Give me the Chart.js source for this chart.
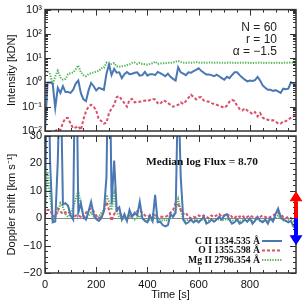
<!DOCTYPE html>
<html>
<head>
<meta charset="utf-8">
<script src="https://cdn.jsdelivr.net/npm/chart.js@4.4.0/dist/chart.umd.min.js"></script>
<style>
  html, body { margin: 0; padding: 0; background: #fff; }
  #wrap { position: relative; width: 305px; height: 305px; }
  #wrap canvas { position: absolute; left: 0; top: 0; }
</style>
</head>
<body>
<div id="wrap">
  <canvas id="intensityChart" width="305" height="305" style="width:305px;height:305px"></canvas>
  <canvas id="dopplerChart" width="305" height="305" style="width:305px;height:305px"></canvas>
</div>
<script>
// ---- data (time in s) ----
const timeSec = [
  0, 10, 20, 30, 40, 50, 60, 70, 80, 90, 100, 110, 120, 130, 140, 150, 160, 170, 180, 190,
  200, 210, 220, 230, 240, 250, 260, 270, 280, 290, 300, 310, 320, 330, 340, 350, 360, 370, 380, 390,
  400, 410, 420, 430, 440, 450, 460, 470, 480, 490, 500, 510, 520, 530, 540, 550, 560, 570, 580, 590,
  600, 610, 620, 630, 640, 650, 660, 670, 680, 690, 700, 710, 720, 730, 740, 750, 760, 770, 780, 790,
  800, 810, 820, 830, 840, 850, 860, 870, 880, 890, 900, 910, 920, 930, 940, 950, 960, 970, 980
];

// intensity [kDN]
const intensityCII = [
  0.01, 1.0, 1.0, 0.9, 0.09, 0.6, 0.37, 0.7, 0.4, 0.4, 0.37, 0.5, 0.9, 1.2, 0.36, 0.2, 0.17, 0.47, 0.95, 0.7,
  0.47, 0.6, 0.55, 0.5, 2.3, 5.5, 2.0, 3.6, 2.5, 2.6, 1.5, 2.2, 2.7, 2.2, 2.3, 2.5, 2.6, 1.9, 2.0, 2.7,
  1.9, 2.2, 2.2, 2.0, 2.7, 2.4, 2.1, 1.8, 2.3, 1.7, 1.4, 1.2, 4.2, 2.6, 2.3, 2.0, 2.6, 2.5, 2.9, 3.3,
  3.8, 3.0, 2.5, 2.1, 2.1, 2.0, 1.8, 2.1, 1.8, 1.5, 1.3, 1.7, 1.5, 2.0, 2.6, 2.6, 2.0, 1.6, 1.3, 1.1,
  1.2, 1.15, 1.25, 1.7, 1.2, 0.75, 0.6, 0.5, 0.5, 0.45, 0.48, 0.43, 0.37, 0.55, 0.52, 0.55, 1.0, 0.9, 0.8
];
const intensityOI = [
  0.008, 0.008, 0.008, 0.009, 0.01, 0.012, 0.011, 0.022, 0.034, 0.034, 0.02, 0.013, 0.014, 0.016, 0.011, 0.03, 0.064, 0.10, 0.12, 0.10,
  0.07, 0.03, 0.026, 0.02, 0.022, 0.055, 0.085, 0.12, 0.25, 0.27, 0.19, 0.14, 0.10, 0.19, 0.21, 0.15, 0.16, 0.16, 0.17, 0.18,
  0.17, 0.19, 0.21, 0.20, 0.14, 0.13, 0.18, 0.17, 0.14, 0.12, 0.10, 0.11, 0.12, 0.15, 0.13, 0.17, 0.23, 0.31, 0.25, 0.20,
  0.24, 0.25, 0.18, 0.17, 0.16, 0.14, 0.13, 0.12, 0.11, 0.10, 0.09, 0.11, 0.16, 0.19, 0.17, 0.11, 0.08, 0.07, 0.085, 0.07,
  0.06, 0.05, 0.06, 0.04, 0.055, 0.036, 0.03, 0.029, 0.027, 0.028, 0.024, 0.021, 0.02, 0.025, 0.025, 0.03, 0.035, 0.04, 0.05
];
const intensityMgII = [
  3.0, 2.8, 2.2, 0.8, 1.8, 3.0, 1.6, 1.3, 1.4, 2.2, 2.4, 2.6, 3.5, 5.0, 2.6, 2.0, 1.8, 2.2, 2.4, 2.6,
  2.8, 3.0, 3.8, 4.0, 6.5, 5.5, 5.8, 6.2, 4.6, 4.4, 4.6, 4.8, 5.2, 5.6, 6.4, 6.6, 5.8, 6.4, 5.8, 5.6,
  5.4, 5.8, 6.2, 7.2, 5.8, 6.0, 6.2, 6.2, 6.4, 6.4, 6.6, 7.2, 7.8, 7.0, 6.6, 6.4, 6.6, 6.4, 6.6, 6.8,
  6.6, 6.4, 6.6, 6.4, 6.6, 6.5, 6.4, 6.6, 6.4, 6.5, 6.3, 6.5, 6.6, 6.4, 6.5, 6.3, 6.5, 6.4, 6.6, 6.4,
  6.5, 6.3, 6.4, 6.6, 6.4, 6.5, 6.3, 6.4, 6.5, 6.3, 6.4, 6.5, 6.3, 6.4, 6.5, 6.4, 6.6, 6.5, 6.4
];

// Doppler shift [km/s]
const dopplerCII = [
  0, 80, 20, -1.5, -1.2, 21, 60, 5, 5.5, 4.5, 1, -0.5, 80, 2, 5.5, 0.5, -0.5, 2.5, 6, 1.5,
  -0.3, -1, 0, 2.5, 15, 80, 5, 21, 3, 4, -0.5, 1.5, -1, 3, 0.5, 2, 1, 6, 0, -1,
  -1.5, 1, -1, 8.5, -1.5, -1.3, -2.5, -3, -2.5, 1.5, 0.5, 2, 50, 15, -0.5, -2, -1.5, -0.5, -1.5, -0.8,
  -1.5, -0.5, 0.5, -2, -1.5, -0.5, -1.3, -0.5, 0.5, -0.5, 1, 1.5, -0.5, -2, -1.5, -0.5, -2, -1.5, -0.5, -1.3,
  0, -2, -1, 0.5, -1, -1.5, -0.5, -2, 0, -1.2, 1.5, 3.5, 0.5, -0.5, -1, -1.5, -1, -3, -2
];
const dopplerOI = [
  1, 3, 3, 1, 0.5, 3.5, 2.5, 1.5, 2, 2.5, 1.5, 0, 1, 1, 0.5, 0, 2, 3, 3.5, 2.5,
  1, 0, 0.5, 2.5, 6, 3, -1, 1.5, 3, 2, 1, 0.5, 0.5, 1, 1, 1.5, 2.5, 3, 2, 1,
  0.5, 1, 1.5, 1, 0, 0.5, 0.5, 0.5, 1, 2, 3, 5.5, 5, 3, 1.5, 2, 0.5, 0, 0.5, 0.3,
  1, 0.5, 1, 0.5, 0, 1, 0.5, 1, 1.5, 0.5, 1, 0.5, 1.5, 0.5, 0, 1, 0.5, 1, 0, 0.5,
  1, 0.5, 0.5, 0, 0.5, 1, 0.5, 0, 0.5, 1, 1.5, 2, 1.5, 0.5, 0, 0.5, 0, -0.5, 0
];
const dopplerMgII = [
  3, 17, 8, -1, 0.5, 2, 5.5, 4, 1.5, 0.5, 1.5, 4, 7, 10, 5, 1, 0, 1, 2, 0.5,
  0, 0.5, 2, 3, 8.5, 6, 3, 9, 2, 0.5, 0, -0.5, 0, 0.5, 0, -0.5, 0, 1, 0, -0.5,
  -1, -0.5, -1, 1.5, -1, -0.5, -1, -0.5, -1, 0, 1, 3, 7, 3, -0.5, -1, -0.5, -1, -0.8, -0.5,
  -1, -0.7, -0.3, -1, -0.8, -0.5, -1, -0.6, -0.3, -0.8, -0.5, -0.3, -0.8, -1, -0.7, -0.5, -1, -0.8, -0.5, -1,
  -0.6, -1, -0.7, -0.4, -0.8, -1, -0.6, -1, -0.5, -0.7, 0, 1, 0, -0.8, -1, -0.7, -1, -1.2, -0.8
];

const seriesLabels = ['C II 1334.535 Å', 'O I 1355.598 Å', 'Mg II 2796.354 Å'];
const intensityTicks = [0.01, 0.1, 1, 10, 100, 1000];
const intensityTickLabels = ['10⁻²', '10⁻¹', '10⁰', '10¹', '10²', '10³'];
const dopplerTicks = [-20, -10, 0, 10, 20, 30];
const timeTicks = [0, 200, 400, 600, 800];
const statsLines = ['N = 60', 'r = 10', 'α = −1.5'];
const fluxNote = 'Median log Flux = 8.70';

// ---- styles ----
const lineStyles = [
  { borderColor: '#4a78b4', borderWidth: 2, borderDash: [] },
  { borderColor: '#d9506a', borderWidth: 2, borderDash: [3, 2] },
  { borderColor: '#55b255', borderWidth: 2, borderDash: [1.3, 1.3] }
];
const SANS = '"Liberation Sans", Arial, sans-serif';
const SERIF = '"Liberation Serif", "Times New Roman", serif';
const frameColor = '#333';

function makeDatasets(seriesList) {
  return seriesList.map((vals, i) => ({
    label: seriesLabels[i],
    data: timeSec.map((t, k) => ({ x: t, y: vals[k] })),
    ...lineStyles[i],
    pointRadius: 0,
    tension: 0,
    fill: false
  }));
}

// text squeezed/stretched horizontally to a given width (the original uses a wide vector font)
function fitText(ctx, text, x, y, scaleX, align) {
  const w = ctx.measureText(text).width * scaleX;
  const left = align === 'right' ? x - w : x;
  ctx.save();
  ctx.translate(left, y);
  ctx.scale(scaleX, 1);
  ctx.textAlign = 'left';
  ctx.fillText(text, 0, 0);
  ctx.restore();
}

// draws the box and inward ticks on all four sides
const frameTicks = {
  id: 'frameTicks',
  afterDraw(chart, args, opts) {
    const { ctx, chartArea: a, scales } = chart;
    ctx.save();
    ctx.strokeStyle = frameColor;
    ctx.lineWidth = 1;
    const tick = (list, len, horizontal) => {
      list.forEach(v => {
        if (horizontal) {
          const x = Math.round(scales.x.getPixelForValue(v)) + 0.5;
          ctx.beginPath();
          ctx.moveTo(x, a.bottom); ctx.lineTo(x, a.bottom - len);
          ctx.moveTo(x, a.top); ctx.lineTo(x, a.top + len);
          ctx.stroke();
        } else {
          const y = Math.round(scales.y.getPixelForValue(v)) + 0.5;
          ctx.beginPath();
          ctx.moveTo(a.left, y); ctx.lineTo(a.left + len, y);
          ctx.moveTo(a.right, y); ctx.lineTo(a.right - len, y);
          ctx.stroke();
        }
      });
    };
    tick(opts.xMajor, 6, true);
    tick(opts.xMinor, 3, true);
    tick(opts.yMajor, 6, false);
    tick(opts.yMinor, 3, false);
    ctx.lineWidth = 1.5;
    ctx.strokeRect(a.left, a.top, a.right - a.left, a.bottom - a.top);
    ctx.restore();
  }
};

const xMinorTicks = [];
for (let t = 50; t < 980; t += 50) if (t % 200) xMinorTicks.push(t);
const logMinorTicks = [];
for (let d = 0.01; d < 1000; d *= 10) for (let m = 2; m <= 9; m++) logMinorTicks.push(d * m);
const dopplerMinorTicks = [];
for (let v = -20; v <= 30; v += 2) if (v % 10) dopplerMinorTicks.push(v);

const tickFont = { family: SANS, size: 11 };
const titleFont = { family: SANS, size: 11 };

// ---- top panel: intensity ----
const intensityNotes = {
  id: 'intensityNotes',
  afterDraw(chart) {
    const { ctx } = chart;
    ctx.save();
    ctx.fillStyle = '#222';
    ctx.font = '12px ' + SANS;
    ctx.textAlign = 'right';
    ctx.textBaseline = 'middle';
    statsLines.forEach((s, i) => ctx.fillText(s, 277, 28 + i * 12));
    ctx.restore();
  }
};

new Chart(document.getElementById('intensityChart'), {
  type: 'line',
  data: { datasets: makeDatasets([intensityCII, intensityOI, intensityMgII]) },
  options: {
    responsive: false,
    animation: false,
    layout: { padding: { top: 9, right: 9, left: 0, bottom: 174 } },
    plugins: {
      legend: { display: false },
      tooltip: { enabled: false },
      frameTicks: { xMajor: timeTicks, xMinor: xMinorTicks, yMajor: intensityTicks, yMinor: logMinorTicks }
    },
    scales: {
      x: { type: 'linear', min: 0, max: 980, display: false },
      y: {
        type: 'logarithmic',
        min: 0.01,
        max: 1000,
        afterFit(s) { s.width = 45; },
        afterBuildTicks(s) { s.ticks = intensityTicks.map(v => ({ value: v })); },
        ticks: {
          autoSkip: false,
          color: '#111',
          font: tickFont,
          padding: 3,
          callback: (v) => intensityTickLabels[intensityTicks.findIndex(t => Math.abs(t - v) / t < 1e-6)]
        },
        grid: { display: false, drawTicks: false },
        border: { display: false },
        title: { display: true, text: 'Intensity [kDN]', color: '#111', font: titleFont, padding: { top: 5, bottom: 2 } }
      }
    }
  },
  plugins: [frameTicks, intensityNotes]
});

// ---- bottom panel: Doppler shift ----
const dopplerNotes = {
  id: 'dopplerNotes',
  beforeDatasetsDraw(chart) {
    const { ctx, chartArea: a, scales } = chart;
    const y0 = Math.round(scales.y.getPixelForValue(0)) + 0.5;
    ctx.save();
    ctx.strokeStyle = '#8a8a8a';
    ctx.lineWidth = 1;
    ctx.beginPath();
    ctx.moveTo(a.left, y0); ctx.lineTo(a.right, y0);
    ctx.stroke();
    ctx.restore();
  },
  afterDraw(chart) {
    const { ctx, chartArea: a, scales } = chart;
    ctx.save();
    ctx.fillStyle = '#111';
    ctx.textBaseline = 'middle';

    ctx.font = 'bold 11px ' + SERIF;
    const fluxScale = 112 / ctx.measureText(fluxNote).width;
    fitText(ctx, fluxNote, 146, 162, fluxScale, 'left');

    // legend
    ctx.font = 'bold 10px ' + SERIF;
    const legScale = 72 / ctx.measureText(seriesLabels[2]).width;
    seriesLabels.forEach((lab, i) => {
      const y = 241 + i * 9.5;
      ctx.fillStyle = '#111';
      fitText(ctx, lab, 260, y, legScale, 'right');
      const st = lineStyles[i];
      ctx.strokeStyle = st.borderColor;
      ctx.lineWidth = st.borderWidth;
      ctx.setLineDash(st.borderDash);
      ctx.beginPath();
      ctx.moveTo(262, y); ctx.lineTo(282, y);
      ctx.stroke();
    });
    ctx.setLineDash([]);

    // red / blue shift arrows on the right axis
    const y0 = scales.y.getPixelForValue(0);
    const xc = a.right;
    const arrow = (color, dir) => {
      ctx.fillStyle = color;
      ctx.fillRect(xc - 2, dir < 0 ? y0 - 17 : y0, 4, 17);
      ctx.beginPath();
      ctx.moveTo(xc - 6.5, y0 + dir * 17);
      ctx.lineTo(xc + 6.5, y0 + dir * 17);
      ctx.lineTo(xc, y0 + dir * 27);
      ctx.closePath();
      ctx.fill();
    };
    arrow('#ff0000', -1);
    arrow('#0000ff', 1);
    ctx.restore();
  }
};

new Chart(document.getElementById('dopplerChart'), {
  type: 'line',
  data: { datasets: makeDatasets([dopplerCII, dopplerOI, dopplerMgII]) },
  options: {
    responsive: false,
    animation: false,
    layout: { padding: { top: 136, right: 9, left: 0, bottom: 0 } },
    plugins: {
      legend: { display: false },
      tooltip: { enabled: false },
      frameTicks: { xMajor: timeTicks, xMinor: xMinorTicks, yMajor: dopplerTicks, yMinor: dopplerMinorTicks }
    },
    scales: {
      x: {
        type: 'linear',
        min: 0,
        max: 980,
        afterFit(s) { s.height = 32; },
        afterBuildTicks(s) { s.ticks = timeTicks.map(v => ({ value: v })); },
        ticks: { autoSkip: false, maxRotation: 0, color: '#111', font: tickFont, padding: 5 },
        grid: { display: false, drawTicks: false },
        border: { display: false },
        title: { display: true, text: 'Time [s]', color: '#111', font: titleFont, padding: { top: 0, bottom: 3 } }
      },
      y: {
        min: -20,
        max: 30,
        afterFit(s) { s.width = 45; },
        afterBuildTicks(s) { s.ticks = dopplerTicks.map(v => ({ value: v })); },
        ticks: {
          autoSkip: false,
          color: '#111',
          font: tickFont,
          padding: 3,
          callback: (v) => String(v).replace('-', '−')
        },
        grid: { display: false, drawTicks: false },
        border: { display: false },
        title: { display: true, text: 'Doppler shift [km s⁻¹]', color: '#111', font: titleFont, padding: { top: 5, bottom: 2 } }
      }
    }
  },
  plugins: [frameTicks, dopplerNotes]
});
</script>
</body>
</html>
